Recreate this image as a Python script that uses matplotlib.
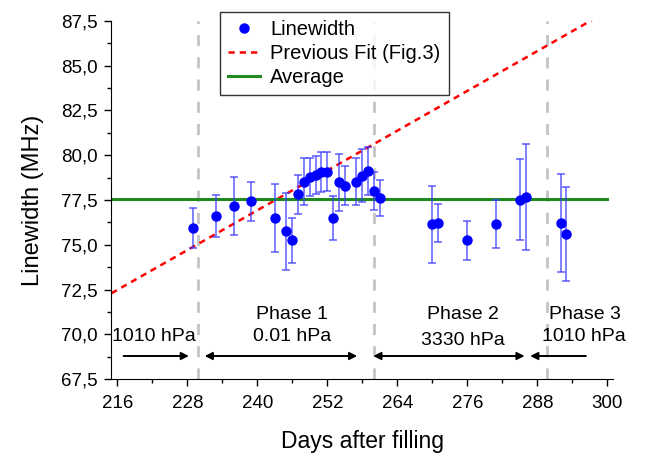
import matplotlib
matplotlib.use("Agg")
import matplotlib.pyplot as plt
from matplotlib.ticker import MultipleLocator, FuncFormatter
import numpy as np

plt.rcParams['font.family'] = ['Liberation Sans', 'DejaVu Sans']

days = [229, 233, 236, 239, 243, 245, 246, 247, 248, 249, 250, 251, 252, 253, 254,
        255, 257, 258, 259, 260, 261, 270, 271, 276, 281, 285, 286, 292, 293]
linewidth = [75.94, 76.62, 77.17, 77.43, 76.48, 75.75, 75.25, 77.82, 78.52, 78.80,
             78.90, 79.05, 79.08, 76.51, 78.49, 78.30, 78.52, 78.86, 79.10, 78.00,
             77.63, 76.14, 76.20, 75.25, 76.16, 77.52, 77.67, 76.20, 75.62]
errors = [1.14, 1.18, 1.63, 1.08, 1.90, 2.15, 1.27, 1.10, 1.30, 1.07,
          1.08, 1.10, 1.10, 1.23, 1.60, 1.10, 1.30, 1.47, 1.33, 1.07,
          1.00, 2.15, 1.06, 1.07, 1.35, 2.25, 2.95, 2.74, 2.63]

average = 77.55
fit_intercept = 72.3   # value at day 215
fit_slope = 0.185      # MHz per day
phase_bounds = [229.9, 260.0, 289.6]

fig = plt.figure(figsize=(6.47, 4.57), dpi=100)
ax = fig.add_axes([0.1723, 0.17, 0.7754, 0.7847])
ax.set_xlim(215, 301)
ax.set_ylim(67.5, 87.5)

for b in phase_bounds:
    ax.axvline(b, color='#c4c4c4', lw=2, ls=(0, (4, 4)), zorder=1)

xf = np.array([215, 301])
ax.plot(xf, fit_intercept + fit_slope * (xf - 215), color='red', lw=1.8,
        ls=(0, (2.5, 2)), label='Previous Fit (Fig.3)', zorder=2)
ax.plot([215, 300], [average, average], color='#1f8a1f', lw=2.2, label='Average', zorder=2)

ax.errorbar(days, linewidth, yerr=errors, fmt='none', ecolor='#3a3aff', alpha=0.75,
            elinewidth=1.2, capsize=3, capthick=1.2, zorder=3)
ax.plot(days, linewidth, 'o', color='#0000ff', ms=6.5, label='Linewidth', zorder=4)

handles, labels = ax.get_legend_handles_labels()
order = [2, 0, 1]
leg = ax.legend([handles[i] for i in order], [labels[i] for i in order],
                loc='upper left', bbox_to_anchor=(220 / 647, 1 - 12 / 457),
                bbox_transform=fig.transFigure, fontsize=14.5, frameon=True,
                fancybox=False, edgecolor='black', handlelength=1.6,
                handletextpad=0.5, borderpad=0.4, labelspacing=0.25,
                borderaxespad=0)
leg.get_frame().set_linewidth(1.0)

# Phase annotations
arrow_y = 68.8
akw = dict(arrowstyle='-|>', color='black', lw=1.4, mutation_scale=11)
dkw = dict(arrowstyle='<|-|>', color='black', lw=1.4, mutation_scale=11)
ax.annotate('', xy=(228.75, arrow_y), xytext=(216.6, arrow_y), arrowprops=akw)
ax.annotate('', xy=(257.6, arrow_y), xytext=(230.5, arrow_y), arrowprops=dkw)
ax.annotate('', xy=(286.3, arrow_y), xytext=(259.4, arrow_y), arrowprops=dkw)
ax.annotate('', xy=(286.3, arrow_y), xytext=(296.8, arrow_y), arrowprops=akw)

tk = dict(ha='center', va='center', fontsize=14)
ax.text(222.2, 69.88, '1010 hPa', **tk)
ax.text(246.0, 71.14, 'Phase 1', **tk)
ax.text(246.0, 69.88, '0.01 hPa', **tk)
ax.text(275.2, 71.14, 'Phase 2', **tk)
ax.text(275.2, 69.64, '3330 hPa', **tk)
ax.text(296.2, 71.14, 'Phase 3', **tk)
ax.text(295.9, 69.88, '1010 hPa', **tk)

ax.spines['top'].set_visible(False)
ax.spines['right'].set_visible(False)
ax.xaxis.set_major_locator(MultipleLocator(12))
ax.xaxis.set_minor_locator(MultipleLocator(6))
ax.set_xticks(np.arange(216, 301, 12))
ax.yaxis.set_major_locator(MultipleLocator(2.5))
ax.yaxis.set_minor_locator(MultipleLocator(1.25))
ax.yaxis.set_major_formatter(FuncFormatter(lambda v, p: f"{v:.1f}".replace('.', ',')))
ax.tick_params(which='major', direction='out', length=5, width=1, labelsize=13.5)
ax.tick_params(axis='x', which='major', pad=6)
ax.tick_params(axis='y', which='major', pad=5)
ax.tick_params(which='minor', direction='out', length=3, width=1)
ax.set_xlabel('Days after filling', fontsize=16.5, labelpad=13)
ax.set_ylabel('Linewidth (MHz)', fontsize=17, labelpad=12)

fig.savefig('out.png', dpi=100)
